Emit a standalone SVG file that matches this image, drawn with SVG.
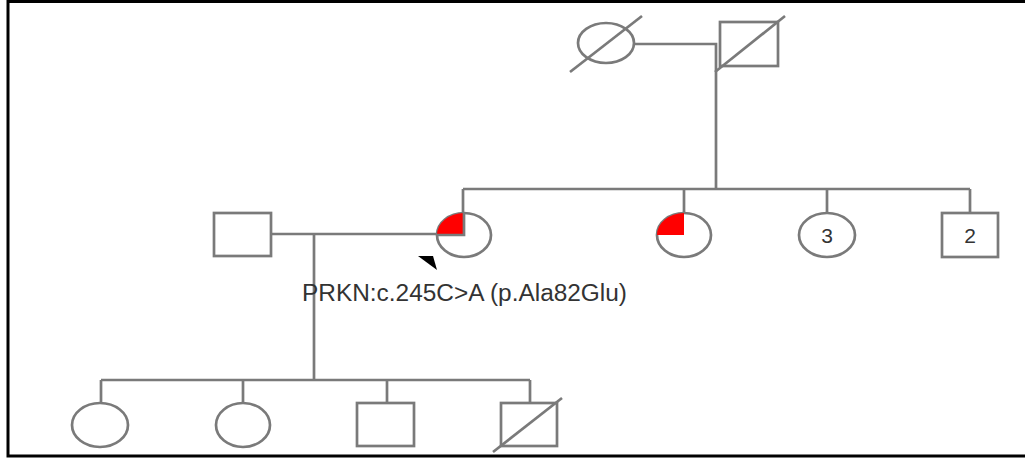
<svg xmlns="http://www.w3.org/2000/svg" width="1025" height="464" viewBox="0 0 1025 464">
<style>
.ln{stroke:#7a7a7a;stroke-width:2.7;fill:none}
.sh{stroke:#7a7a7a;stroke-width:2.7;fill:#fff}
.aff{fill:#f00;stroke:none}
.lbl{font-family:"Liberation Sans",Arial,sans-serif;fill:#333}
</style>
<rect width="1025" height="464" fill="#fff"/>
<path d="M8,456 V1.5 H1025 M6.5,456 H1025" stroke="#000" stroke-width="3" fill="none"/>
<g id="connectors">
<path class="ln" d="M635,44 H716 V189"/>
<path class="ln" d="M463,189 H970 M463,189 V213 M684,189 V213 M827,189 V213 M970,189 V213"/>
<path class="ln" d="M271,234 H437"/>
<path class="ln" d="M314,234 V380"/>
<path class="ln" d="M101,380 H530 M101,380 V403 M243,380 V403 M387,380 V403 M530,380 V403"/>
</g>
<g id="grandmother">
<ellipse class="sh" cx="606" cy="43" rx="28" ry="20"/>
<line class="ln" x1="570" y1="72" x2="642" y2="16"/>
</g>
<g id="grandfather">
<rect class="sh" x="720" y="22" width="58" height="44"/>
<line class="ln" x1="715" y1="72" x2="785" y2="16"/>
</g>
<g id="father">
<rect class="sh" x="214" y="213" width="57" height="43"/>
</g>
<g id="proband">
<ellipse class="sh" cx="464" cy="235" rx="27" ry="22"/>
<path class="aff" d="M464,235 H437 A27,22 0 0 1 464,213 Z"/>
<path class="ln" d="M437,235 H464 V213"/>
<polygon points="418,256 433,256 437,270" fill="#000"/>
</g>
<g id="sister-affected">
<ellipse class="sh" cx="684" cy="235" rx="27" ry="22"/>
<path class="aff" d="M684,235 H657 A27,22 0 0 1 684,213 Z"/>
</g>
<g id="sisters-3">
<ellipse class="sh" cx="827" cy="235" rx="28" ry="22"/>
<text class="lbl" x="827" y="243" font-size="21" text-anchor="middle">3</text>
</g>
<g id="brothers-2">
<rect class="sh" x="942" y="213" width="56" height="44"/>
<text class="lbl" x="970" y="243" font-size="21" text-anchor="middle">2</text>
</g>
<g id="variant-label">
<text class="lbl" x="302" y="301" font-size="23" textLength="325" lengthAdjust="spacingAndGlyphs">PRKN:c.245C&gt;A (p.Ala82Glu)</text>
</g>
<g id="child1">
<ellipse class="sh" cx="100" cy="425" rx="28" ry="22"/>
</g>
<g id="child2">
<ellipse class="sh" cx="243" cy="425" rx="27" ry="22"/>
</g>
<g id="child3">
<rect class="sh" x="357" y="403" width="57" height="43"/>
</g>
<g id="child4">
<rect class="sh" x="501" y="403" width="56" height="43"/>
<line class="ln" x1="493" y1="452" x2="562" y2="398"/>
</g>
</svg>
